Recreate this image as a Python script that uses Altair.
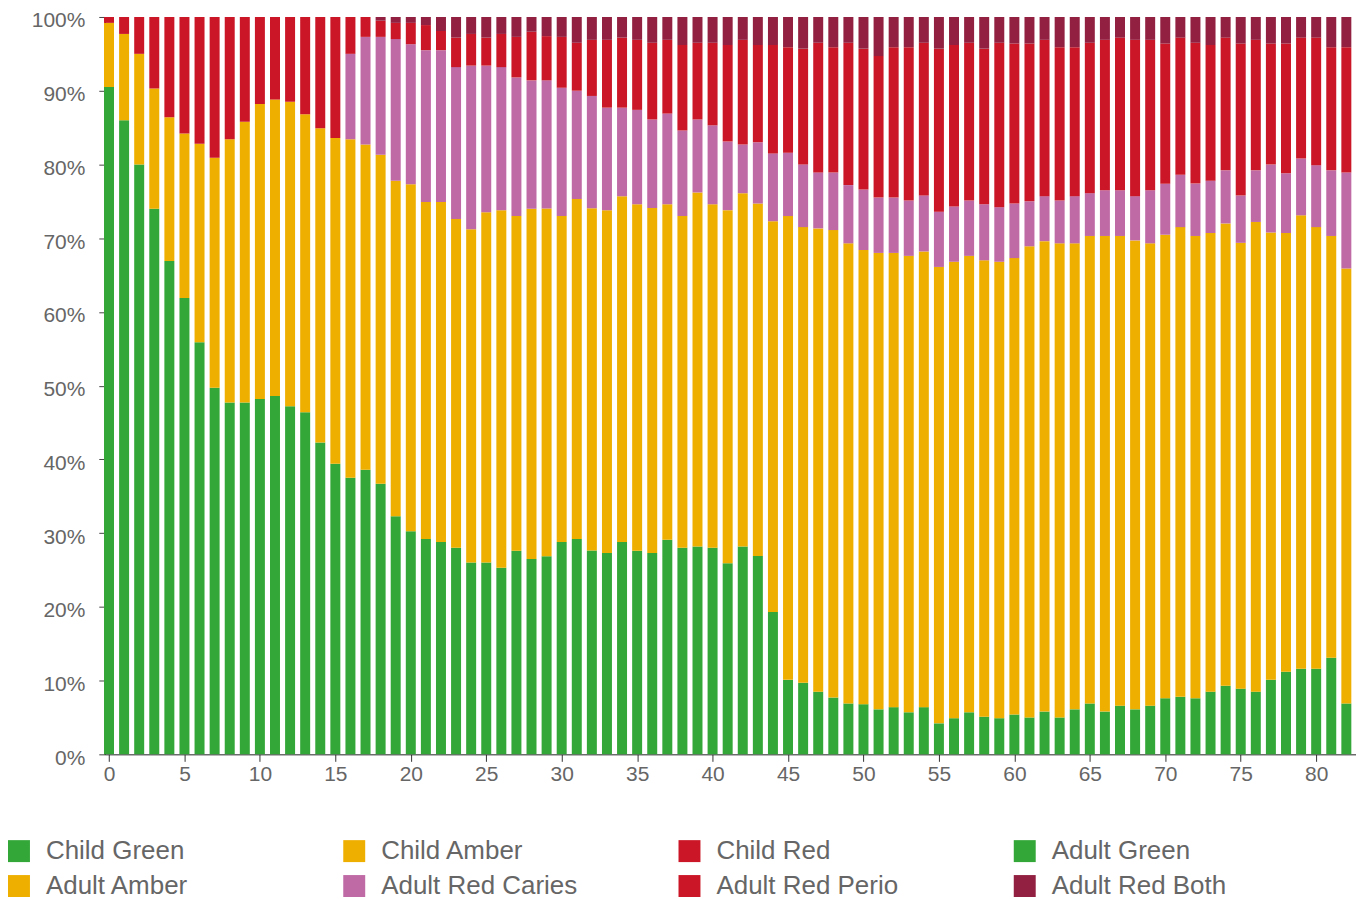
import altair as alt
import pandas as pd

FONT = "Liberation Sans"

series_names = ["Child Green", "Child Amber", "Child Red", "Adult Green",
                "Adult Amber", "Adult Red Caries", "Adult Red Perio", "Adult Red Both"]
series_colors = ["#33a737", "#efaf00", "#cb1627", "#33a737",
                 "#efaf00", "#bf69a5", "#cb1627", "#922040"]

child_ages = list(range(0, 16))
adult_ages = list(range(16, 83))

child_green = [90.5, 86.0, 80.0, 74.0, 66.9, 61.9, 55.9, 49.7, 47.7, 47.7, 48.2, 48.6, 47.2, 46.4, 42.3, 39.4]
child_amber = [8.7, 11.7, 15.0, 16.3, 19.5, 22.3, 26.9, 31.2, 35.7, 38.1, 40.0, 40.2, 41.3, 40.4, 42.6, 44.2]
child_red = [0.8, 2.3, 5.0, 9.7, 13.6, 15.8, 17.2, 19.1, 16.6, 14.2, 11.8, 11.2, 11.5, 13.2, 15.1, 16.4]

adult_green = [37.5, 38.6, 36.7, 32.3, 30.3, 29.2, 28.8, 28.0, 26.0, 26.0,
               25.3, 27.6, 26.5, 26.9, 28.8, 29.2, 27.6, 27.3, 28.8, 27.6,
               27.3, 29.1, 28.0, 28.2, 28.0, 25.9, 28.2, 26.9, 19.3, 10.1,
               9.7, 8.5, 7.7, 6.9, 6.8, 6.1, 6.4, 5.7, 6.4, 4.2,
               4.9, 5.7, 5.1, 4.9, 5.4, 5.0, 5.8, 5.0, 6.1, 6.9,
               5.8, 6.6, 6.1, 6.6, 7.6, 7.8, 7.6, 8.5, 9.3, 8.9,
               8.5, 10.1, 11.2, 11.6, 11.6, 13.1, 6.9]
adult_amber = [45.9, 44.1, 44.6, 45.5, 47.1, 45.7, 46.1, 44.6, 45.2, 47.5,
               48.5, 45.4, 47.5, 47.2, 44.2, 46.1, 46.4, 46.5, 46.9, 47.0,
               46.8, 45.5, 45.0, 48.0, 46.6, 47.9, 47.9, 47.8, 53.0, 62.9,
               61.8, 62.9, 63.4, 62.4, 61.6, 61.9, 61.6, 61.9, 61.8, 61.9,
               61.9, 61.9, 61.9, 61.9, 61.9, 63.9, 63.8, 64.3, 63.2, 63.4,
               64.5, 63.7, 63.6, 62.7, 62.8, 63.7, 62.7, 62.2, 62.7, 60.4,
               63.7, 60.6, 59.5, 61.5, 59.9, 57.2, 59.0]
adult_red_caries = [11.6, 14.6, 16.0, 19.2, 19.0, 20.6, 20.6, 20.6, 22.2, 19.9,
                    19.4, 18.8, 17.4, 17.4, 17.4, 14.7, 15.2, 13.9, 12.0, 12.8,
                    12.0, 12.3, 11.6, 9.9, 10.7, 9.3, 6.6, 8.3, 9.2, 8.6,
                    8.5, 7.6, 7.8, 7.9, 8.2, 7.5, 7.5, 7.5, 7.6, 7.5,
                    7.5, 7.5, 7.6, 7.4, 7.4, 6.1, 6.1, 5.8, 6.4, 5.8,
                    6.2, 6.2, 6.0, 7.2, 6.9, 7.1, 7.1, 7.1, 7.2, 6.4,
                    7.0, 9.2, 8.1, 7.7, 8.4, 8.9, 13.0]
adult_red_perio = [5.0, 2.7, 2.2, 2.2, 2.9, 3.4, 2.6, 4.0, 4.3, 3.8,
                   4.5, 5.5, 6.6, 6.0, 6.9, 6.5, 7.6, 9.2, 9.5, 9.5,
                   10.4, 10.0, 11.6, 10.4, 11.2, 13.1, 14.2, 13.2, 14.7, 14.3,
                   15.7, 17.6, 17.0, 19.3, 19.1, 19.2, 20.4, 20.8, 20.7, 22.1,
                   21.9, 21.4, 21.1, 22.3, 21.7, 21.4, 21.2, 20.8, 20.2, 20.4,
                   20.4, 20.7, 21.2, 20.4, 19.0, 18.6, 19.1, 18.4, 18.0, 20.6,
                   17.7, 16.4, 17.6, 16.4, 17.3, 16.7, 17.0]
adult_red_both = [0.0, 0.0, 0.5, 0.8, 0.8, 1.1, 1.9, 2.8, 2.3, 2.8,
                  2.3, 2.7, 2.0, 2.6, 2.7, 3.5, 3.1, 3.1, 2.8, 3.1,
                  3.5, 3.1, 3.8, 3.5, 3.5, 3.8, 3.1, 3.8, 3.8, 4.1,
                  4.3, 3.5, 4.1, 3.5, 4.3, 5.3, 4.1, 4.1, 3.5, 4.3,
                  3.8, 3.5, 4.3, 3.5, 3.6, 3.6, 3.1, 4.1, 4.1, 3.5,
                  3.1, 2.8, 3.1, 3.1, 3.6, 2.8, 3.5, 3.8, 2.8, 3.6,
                  3.1, 3.6, 3.6, 2.8, 2.8, 4.1, 4.1]

rows = []
child_series = [child_green, child_amber, child_red]
adult_series = [adult_green, adult_amber, adult_red_caries, adult_red_perio, adult_red_both]
for k, vals in enumerate(child_series):
    for age, v in zip(child_ages, vals):
        rows.append({"age": age, "series": series_names[k], "order": k, "value": v})
for k, vals in enumerate(adult_series):
    for age, v in zip(adult_ages, vals):
        rows.append({"age": age, "series": series_names[k + 3], "order": k + 3, "value": v})
df = pd.DataFrame(rows)

chart = alt.Chart(df).mark_bar(size=10).encode(
    x=alt.X("age:Q",
            scale=alt.Scale(domain=[-0.28, 82.64], nice=False, zero=False, padding=0),
            axis=alt.Axis(values=list(range(0, 85, 5)), title=None, grid=False,
                          labelFontSize=21, labelColor="#666666", labelFont=FONT,
                          tickSize=7, tickColor="#333333", labelPadding=2,
                          domainColor="#222222", labelFlush=False)),
    y=alt.Y("value:Q", stack="normalize",
            scale=alt.Scale(domain=[0, 1]),
            axis=alt.Axis(values=[i / 10 for i in range(11)], format=".0%", title=None,
                          grid=False, labelFontSize=21, labelColor="#666666",
                          labelFont=FONT, tickSize=6, tickColor="#444444",
                          labelPadding=14, labelOffset=4, domainColor="#222222",
                          domainWidth=1.5)),
    color=alt.Color("series:N",
                    scale=alt.Scale(domain=series_names, range=series_colors),
                    sort=series_names,
                    legend=alt.Legend(title=None, orient="none", legendX=-99, legendY=823,
                                      direction="horizontal",
                                      columns=4, gridAlign="all", columnPadding=99,
                                      rowPadding=9, symbolType="square", symbolSize=484,
                                      symbolStrokeWidth=0, labelFontSize=26,
                                      labelColor="#666666", labelFont=FONT,
                                      labelOffset=14, labelLimit=400)),
    order=alt.Order("order:Q", sort="ascending"),
).properties(
    width=1254,
    height=739,
    autosize=alt.AutoSizeParams(type="none"),
    padding={"left": 97, "top": 8, "right": 0, "bottom": 143},
).configure_view(stroke=None)

chart.save("out.html", embed_options={"renderer": "svg", "actions": False})
